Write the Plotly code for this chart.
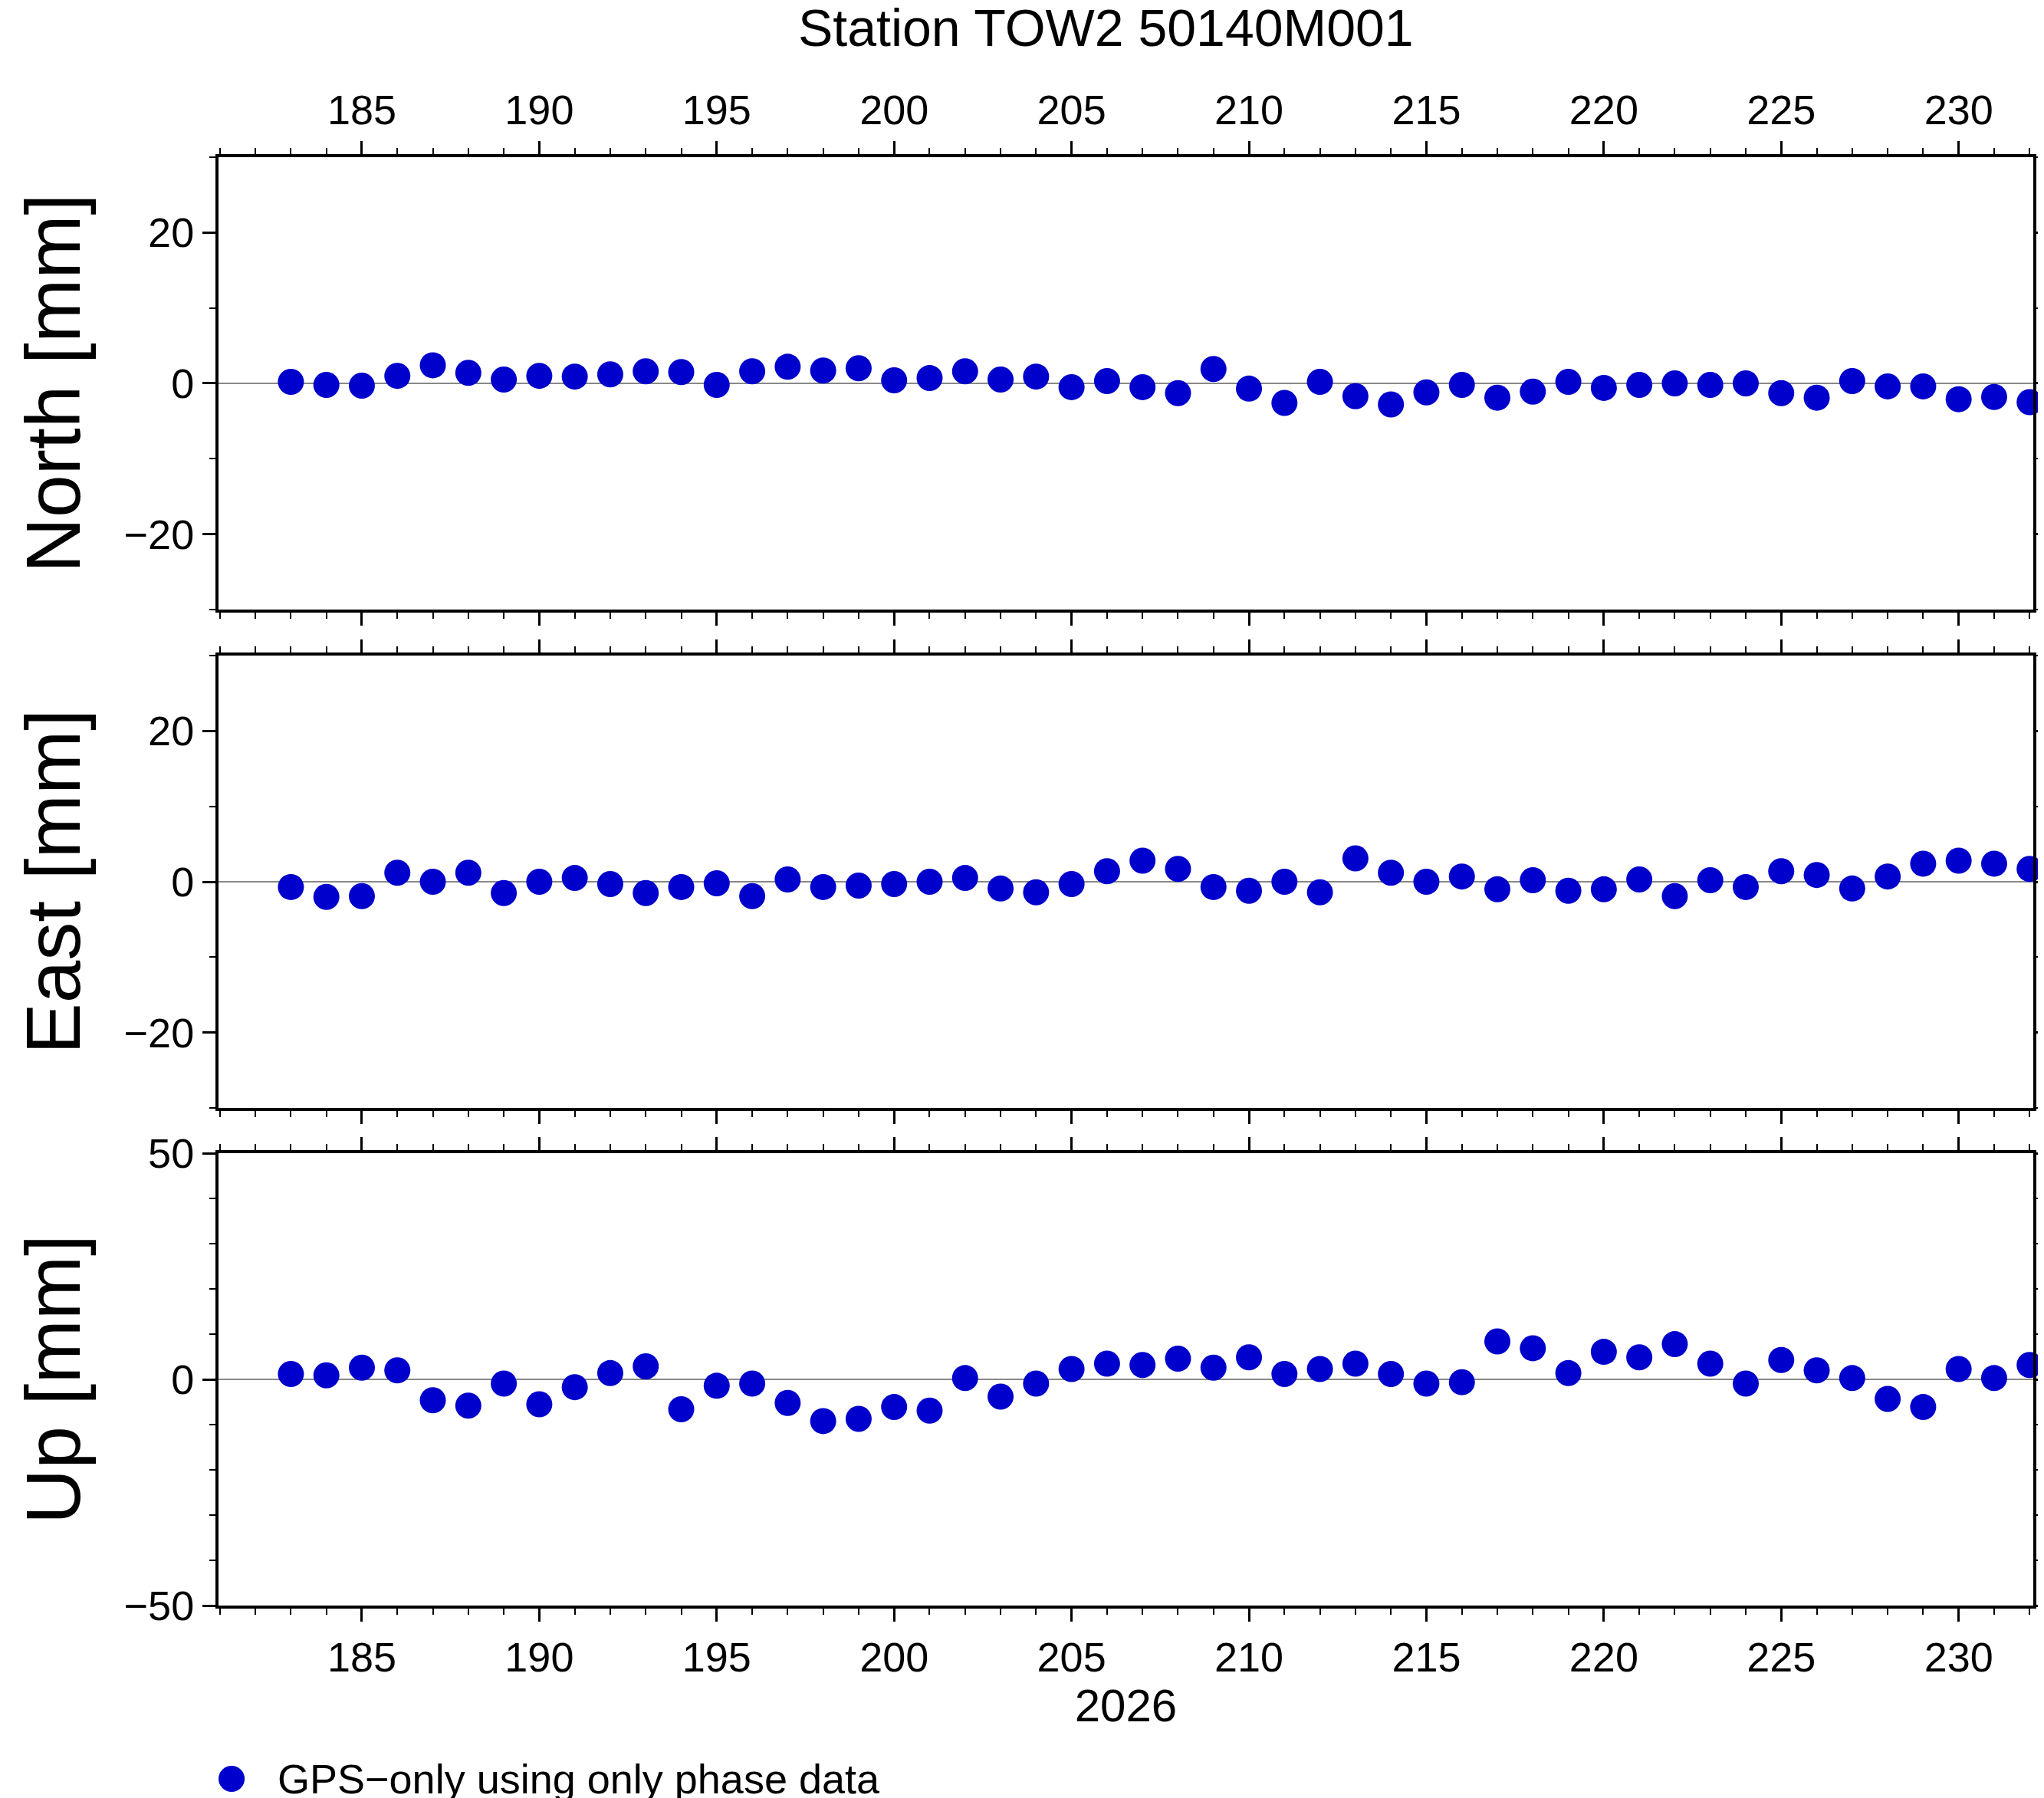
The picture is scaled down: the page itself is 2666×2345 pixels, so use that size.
import plotly.graph_objects as go

days = list(range(183, 233))
north = [0.2,-0.2,-0.3,1.0,2.4,1.4,0.5,1.0,0.9,1.2,1.6,1.5,-0.2,1.6,2.2,1.7,2.0,0.4,0.7,1.6,
         0.5,0.9,-0.5,0.3,-0.5,-1.3,1.9,-0.7,-2.6,0.2,-1.7,-2.8,-1.2,-0.2,-1.9,-1.1,0.2,-0.6,-0.2,0.0,
         -0.2,0.0,-1.3,-1.9,0.3,-0.4,-0.4,-2.1,-1.8,-2.5]
east = [-0.7,-2.0,-1.9,1.2,0.0,1.2,-1.5,0.0,0.5,-0.3,-1.5,-0.7,-0.2,-1.9,0.3,-0.7,-0.5,-0.3,0.0,0.5,
        -0.9,-1.4,-0.3,1.4,2.8,1.7,-0.7,-1.2,0.0,-1.4,3.1,1.2,0.0,0.7,-1.0,0.2,-1.2,-1.0,0.3,-1.9,
        0.2,-0.7,1.4,0.9,-0.9,0.7,2.4,2.8,2.4,1.7]
up = [1.2,0.9,2.6,2.0,-4.6,-5.8,-0.9,-5.5,-1.7,1.4,2.9,-6.6,-1.4,-0.9,-5.2,-9.2,-8.7,-6.1,-6.9,0.3,
      -3.8,-0.9,2.3,3.5,3.2,4.6,2.6,4.9,1.2,2.3,3.5,1.2,-0.9,-0.6,8.4,6.9,1.4,6.1,4.9,7.8,
      3.5,-0.9,4.3,2.0,0.3,-4.3,-6.1,2.3,0.3,3.2]
panel_names = ["North [mm]", "East [mm]", "Up [mm]"]
title = "Station TOW2 50140M001"
year_label = "2026"
legend_name = "GPS\u2212only using only phase data"

color = "#0000CD"
font = "Liberation Sans, Arial, sans-serif"
fig = go.Figure()
doms = [[0.6644, 0.916], [0.3872, 0.6388], [0.1104, 0.362]]
ranges = [[-30, 30], [-30, 30], [-50, 50]]
dticks = [20, 20, 50]
for i, vals in enumerate([north, east, up]):
    n = i + 1
    fig.add_trace(go.Scatter(x=days, y=vals, mode="markers",
                             marker=dict(size=34, color=color),
                             name=legend_name, showlegend=False,
                             xaxis=f"x{n}" if n > 1 else "x", yaxis=f"y{n}" if n > 1 else "y",
                             cliponaxis=False))
    xa = dict(domain=[0.1039, 0.9917], range=[180.96, 232.1], anchor=f"y{n}" if n > 1 else "y",
              automargin=False,
              showgrid=False, zeroline=False, showline=True, linecolor="black", linewidth=4,
              mirror="ticks", ticks="outside", ticklen=17, tickwidth=3, tickcolor="black",
              tick0=185, dtick=5,
              minor=dict(ticks="outside", ticklen=8, tickwidth=2, dtick=1, tick0=180, tickcolor="black"),
              tickfont=dict(size=54, family=font, color="black"))
    if n == 1:
        xa["side"] = "top"
    elif n == 2:
        xa["showticklabels"] = False
    else:
        xa["title"] = dict(text=year_label, font=dict(size=60, family=font, color="black"), standoff=2)
    if n > 1:
        xa["matches"] = "x"
    ya = dict(domain=doms[i], range=ranges[i], anchor=f"x{n}" if n > 1 else "x",
              automargin=False,
              showgrid=False, zeroline=True, zerolinecolor="#888888", zerolinewidth=2,
              showline=True, linecolor="black", linewidth=4, mirror="ticks",
              ticks="outside", ticklen=17, tickwidth=3, tickcolor="black",
              dtick=dticks[i], tickformat="d",
              minor=dict(ticks="outside", ticklen=8, tickwidth=2, dtick=10, tickcolor="black"),
              tickfont=dict(size=54, family=font, color="black"),
              title=dict(text=panel_names[i], font=dict(size=100, family=font, color="black"), standoff=25))
    fig.layout[f"xaxis{n}" if n > 1 else "xaxis"] = xa
    fig.layout[f"yaxis{n}" if n > 1 else "yaxis"] = ya

fig.add_shape(type="circle", xref="paper", yref="paper",
              x0=0.1039, x1=0.1167, y0=0.0068, y1=0.0213,
              fillcolor=color, line=dict(width=0))
fig.add_annotation(text=legend_name, xref="paper", yref="paper", x=0.132, y=0.0140,
                   xanchor="left", yanchor="middle", showarrow=False,
                   font=dict(size=54, family=font, color="black"))

fig.update_layout(
    width=2666, height=2345, margin=dict(l=0, r=0, t=0, b=0),
    plot_bgcolor="white", paper_bgcolor="white", showlegend=False,
    title=dict(text=title, x=0.538, xanchor="center", y=0.998, yanchor="top",
               font=dict(size=68, family=font, color="black")),
    separators=".\u2212",
)
fig.write_html("out.html")
